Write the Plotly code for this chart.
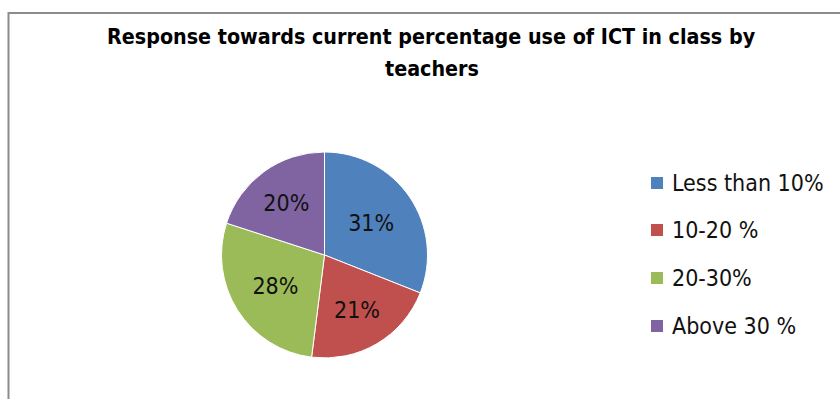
import plotly.graph_objects as go

categories = ["Less than 10%", "10-20 %", "20-30%", "Above 30 %"]
values = [31, 21, 28, 20]
colors = ["#4F81BD", "#C0504D", "#9BBB59", "#8064A2"]
title_lines = ["Response towards current percentage use of ICT in class by", "teachers"]

W, H = 840, 399
FONT = "'Liberation Sans Narrow', 'DejaVu Sans Condensed', Lato, sans-serif"

fig = go.Figure()
fig.add_trace(go.Pie(
    labels=categories, values=values, sort=False, direction="clockwise", rotation=0,
    marker=dict(colors=colors, line=dict(color="white", width=1)),
    textinfo="percent", texttemplate="%{percent:.0%}", textposition="inside",
    insidetextorientation="horizontal",
    textfont=dict(family=FONT, size=23, color="#111111"),
    domain=dict(x=[(324.5 - 103) / W, (324.5 + 103) / W], y=[(H - 358) / H, (H - 152) / H]),
    showlegend=False, hoverinfo="label+percent",
))

shapes = [dict(type="rect", xref="paper", yref="paper", x0=8.5 / W, x1=1.05, y0=-0.05, y1=1 - 13 / H,
               line=dict(color="#8c8c8c", width=2), fillcolor="rgba(0,0,0,0)")]
annotations = []
for i, (t, y) in enumerate(zip(title_lines, [37, 68])):
    annotations.append(dict(xref="paper", yref="paper", x=432 / W, y=1 - y / H, text="<b>" + t + "</b>",
                            showarrow=False, xanchor="center", yanchor="middle",
                            font=dict(family=FONT, size=21.3, color="#000000")))
legend_y = [183, 230, 278, 326]
for c, col, y in zip(categories, colors, legend_y):
    shapes.append(dict(type="rect", xref="paper", yref="paper", x0=651 / W, x1=663 / W,
                       y0=1 - (y + 6) / H, y1=1 - (y - 6) / H, fillcolor=col, line=dict(width=0)))
    annotations.append(dict(xref="paper", yref="paper", x=670 / W, y=1 - y / H, text=c, showarrow=False,
                            xanchor="left", yanchor="middle",
                            font=dict(family=FONT, size=23, color="#111111")))

fig.update_layout(width=W, height=H, margin=dict(l=0, r=0, t=0, b=0),
                  paper_bgcolor="white", plot_bgcolor="white",
                  shapes=shapes, annotations=annotations)
fig.write_html("out.html")
